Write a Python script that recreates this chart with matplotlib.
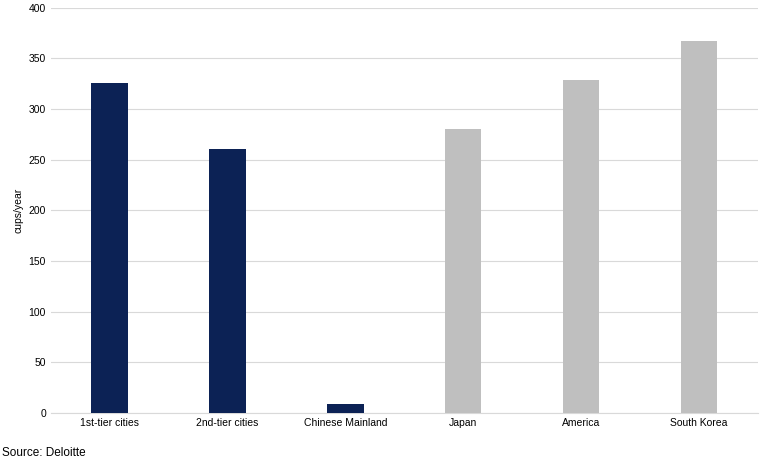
import matplotlib
matplotlib.use("Agg")
import matplotlib.pyplot as plt

categories = ["1st-tier cities", "2nd-tier cities", "Chinese Mainland", "Japan", "America", "South Korea"]
values = [326, 261, 9, 280, 329, 367]
colors = ["#0c2255", "#0c2255", "#0c2255", "#bfbfbf", "#bfbfbf", "#bfbfbf"]
yticks = [0, 50, 100, 150, 200, 250, 300, 350, 400]

plt.rcParams['font.family'] = ['Liberation Sans', 'DejaVu Sans']
fig = plt.figure(figsize=(7.7, 4.61), dpi=100)
ax = fig.add_axes([0.066, 0.104, 0.918, 0.879])
x = range(len(categories))
ax.bar(x, values, width=0.31, color=colors, zorder=3)
ax.set_xticks(list(x))
ax.set_xticklabels(categories, fontsize=7.5)
ax.set_yticks(yticks)
ax.tick_params(axis='y', labelsize=7.5, length=0)
ax.tick_params(axis='x', length=0)
ax.set_ylim(0, 400)
ax.set_xlim(-0.5, 5.5)
ax.grid(axis='y', color='#d9d9d9', linewidth=0.8, zorder=0)
for s in ['top', 'right', 'left']:
    ax.spines[s].set_visible(False)
ax.spines['bottom'].set_color('#d9d9d9')
ax.set_ylabel("cups/year", fontsize=7.5)
fig.text(0.003, 0.01, "Source: Deloitte", fontsize=8.5)
fig.savefig("out.png", dpi=100)
